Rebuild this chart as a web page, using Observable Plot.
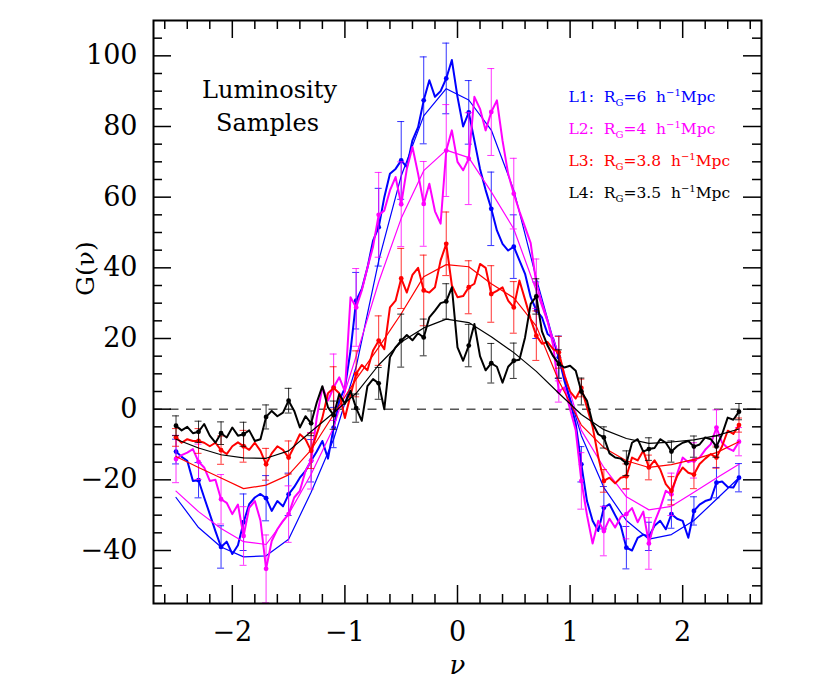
<!DOCTYPE html>
<html><head><meta charset="utf-8">
<script src="https://cdn.jsdelivr.net/npm/d3@7"></script>
<script src="https://cdn.jsdelivr.net/npm/@observablehq/plot@0.6"></script>
<style>body{margin:0;background:#fff}</style>
</head><body><div id="chart"></div>
<script>
// ---------- data ----------
const seriesNames = ["L1", "L2", "L3", "L4"];
const seriesColors = ["#0000ff", "#ff00ff", "#ff0000", "#000000"];
const legendRG = ["6", "4", "3.8", "3.5"];

// noisy measured curves on a grid nu = -2.50, -2.45, ... , 2.50
const noisyNu = d3.range(101).map(i => +(-2.5 + 0.05 * i).toFixed(2));
const L1_noisy = [-12.0,-13.5,-14.6,-20.3,-20.1,-25.0,-29.7,-34.5,-39.0,-37.5,-41.0,-38.5,-32.0,-26.9,-25.0,-24.0,-25.2,-28.8,-26.0,-27.5,-24.1,-22.0,-19.4,-17.5,-14.6,-12.0,-9.0,-14.0,-5.2,2.4,6.0,16.6,30.7,34.0,40.0,47.7,51.5,60.0,66.6,68.0,70.4,68.5,76.1,79.8,87.4,93.1,88.4,90.0,93.6,98.8,88.4,80.0,84.0,76.0,68.0,62.0,56.7,50.6,46.8,44.9,46.0,42.1,38.3,31.7,28.0,26.0,21.3,20.0,14.7,8.0,2.4,-4.2,-15.6,-26.0,-31.6,-34.5,-27.9,-26.9,-30.0,-33.0,-39.2,-40.0,-36.4,-35.5,-36.0,-33.0,-31.6,-34.0,-29.7,-31.0,-31.6,-36.4,-28.8,-27.0,-26.0,-25.5,-20.8,-20.5,-22.0,-22.2,-19.4];
const L2_noisy = [-14.1,-13.0,-12.3,-11.3,-14.9,-16.5,-20.3,-20.0,-25.5,-26.5,-29.7,-27.0,-35.9,-27.9,-26.0,-31.5,-45.2,-37.3,-34.0,-31.6,-29.7,-25.0,-23.1,-17.5,-14.6,-2.4,6.2,2.4,6.2,9.0,5.0,31.7,28.8,33.6,40.0,46.0,55.0,56.2,61.9,65.7,58.0,68.0,74.2,66.6,58.1,63.8,56.0,52.5,73.2,78.9,70.0,67.6,70.9,88.4,85.0,78.9,84.1,87.4,76.0,66.6,61.0,56.0,51.5,47.0,35.5,30.0,25.0,18.0,5.0,6.2,0.0,-6.0,-20.3,-30.0,-38.0,-31.6,-34.5,-31.0,-33.5,-30.5,-29.7,-28.0,-32.0,-29.0,-38.0,-32.0,-28.0,-23.1,-24.1,-18.4,-13.7,-15.0,-14.5,-13.7,-11.5,-9.9,-5.2,-9.5,-11.0,-11.8,-9.2];
const L3_noisy = [-8.0,-9.5,-8.5,-9.0,-9.0,-9.5,-10.5,-9.5,-11.6,-12.7,-10.5,-9.4,-10.5,-11.5,-9.5,-11.8,-15.6,-12.5,-10.5,-11.5,-13.7,-10.5,-7.1,-8.5,-11.8,-7.0,-2.4,4.5,6.0,4.5,-2.5,4.0,10.0,12.5,11.0,16.6,19.4,17.0,28.8,30.7,37.0,33.0,38.0,40.0,33.6,33.0,34.5,42.1,46.8,35.0,31.7,32.0,34.5,35.5,41.1,40.0,32.6,33.5,34.5,30.7,28.8,36.4,31.0,25.5,20.8,18.5,19.0,17.0,16.1,9.5,5.0,3.0,6.0,0.5,-5.0,-13.5,-20.3,-19.4,-21.0,-19.4,-19.0,-13.7,-14.5,-11.8,-16.5,-14.5,-17.0,-21.2,-23.1,-19.0,-16.5,-18.0,-18.5,-15.5,-14.0,-12.7,-13.7,-10.5,-6.1,-7.0,-4.5];
const L4_noisy = [-4.7,-6.0,-5.0,-6.8,-6.4,-4.2,-7.5,-9.5,-6.8,-8.0,-5.2,-7.5,-7.1,-6.0,-9.0,-8.5,-2.2,-0.5,-2.0,-1.0,2.4,-0.5,-5.2,-2.0,-4.0,1.9,6.5,0.5,-1.7,4.3,1.5,5.2,0.3,-3.3,6.5,8.5,7.3,0.0,14.7,17.5,19.4,21.0,19.5,21.5,20.3,26.0,27.9,30.0,30.5,34.5,17.5,13.7,18.0,24.1,15.0,11.0,13.0,12.0,7.5,12.0,13.7,14.0,20.3,29.8,31.9,22.0,18.0,15.0,12.8,11.8,12.3,10.9,5.0,2.4,-4.0,-7.1,-8.0,-12.5,-13.7,-14.0,-15.3,-9.5,-8.5,-12.0,-11.3,-11.0,-8.5,-9.5,-12.0,-10.5,-9.5,-9.0,-10.6,-10.0,-8.0,-8.5,-10.6,-7.1,-2.4,-3.0,-0.7];

// error-bar points
const errNu = [-2.5,-2.3,-2.1,-1.9,-1.7,-1.5,-1.3,-1.1,-0.9,-0.7,-0.5,-0.3,-0.1,0.1,0.3,0.5,0.7,0.9,1.1,1.3,1.5,1.7,1.9,2.1,2.3,2.5];
const L1_errG = [-12.0,-20.1,-39.0,-32.0,-25.2,-24.1,-14.6,-5.2,30.7,51.5,70.4,87.4,93.6,84.0,56.7,46.0,28.0,14.7,-15.6,-27.9,-39.2,-36.0,-29.7,-28.8,-20.8,-19.4];
const L1_errE = [3.5,5,6,8,6.4,6,6,5.7,8,11,11,12.3,10,9,10.4,9,8,6,5,6,6,4,4,4,4.3,4];
const L2_errG = [-14.1,-14.9,-25.5,-35.9,-45.2,-29.7,-14.6,6.2,28.8,55.0,58.0,58.1,73.2,70.9,84.1,61.0,35.5,5.0,-20.3,-34.5,-29.7,-38.0,-24.1,-14.5,-5.2,-9.2];
const L2_errE = [6.7,5,7,8.3,9.6,8,8,9.4,11,12,12,12,13,13,12.3,10,7,3,8,7,7,7.3,6,5,5,4];
const L3_errG = [-8.0,-9.0,-11.6,-10.5,-15.6,-13.7,-11.8,6.0,10.0,19.4,37.0,33.6,46.8,34.5,32.6,28.8,20.8,16.1,6.0,-20.3,-19.0,-16.5,-23.1,-18.5,-13.7,-4.5];
const L3_errE = [2.5,3.5,4,4.5,4.5,4.7,5,6,6.5,7,8.5,10,9,7.5,8,7.3,7,4.5,2.5,3.2,3.5,3.5,4,4,3,2];
const L4_errG = [-4.7,-6.4,-6.8,-7.1,-2.2,2.4,-4.0,-1.7,0.3,7.3,19.4,20.3,30.5,18.0,13.0,13.7,31.9,12.8,5.0,-8.0,-15.3,-11.3,-12.0,-10.6,-10.6,-0.7];
const L4_errE = [2.8,3,3.2,3.4,3.4,3.5,3.5,4,4,4.5,7.5,5.2,5,6,5.6,5,5,4,3.8,3,3.5,3.2,3,3,3,2.3];

// smooth model curves (same nu grid as error points)
const L1_smooth = [-25.0,-33.5,-39.0,-41.8,-41.5,-36.8,-23.5,-8.5,12.0,42.0,66.0,83.0,90.7,87.5,79.0,62.0,37.0,14.0,-7.5,-22.2,-31.5,-36.8,-35.5,-31.5,-25.5,-19.4];
const L2_smooth = [-23.2,-29.0,-33.8,-37.5,-38.3,-29.7,-18.4,-5.2,15.0,36.0,54.0,67.5,73.3,71.2,61.5,51.0,33.5,15.5,-6.0,-16.5,-24.8,-28.5,-27.5,-23.5,-19.5,-15.6];
const L3_smooth = [-13.4,-16.5,-19.5,-22.5,-21.5,-18.6,-11.5,-1.5,8.5,17.5,27.0,37.5,40.9,40.3,35.5,31.5,23.5,8.0,-4.5,-10.9,-14.6,-16.5,-15.7,-14.2,-12.3,-9.2];
const L4_smooth = [-8.5,-11.0,-12.9,-13.8,-13.9,-11.8,-6.3,-1.0,4.5,12.5,19.0,23.0,25.5,24.5,20.5,16.0,10.7,4.5,-1.5,-5.8,-8.3,-9.7,-9.3,-8.7,-7.5,-5.6];

// axes
const xLabelTicks = [-2, -1, 0, 1, 2];
const xMinorTicks = [-2.6,-2.4,-2.2,-1.8,-1.6,-1.4,-1.2,-0.8,-0.6,-0.4,-0.2,0.2,0.4,0.6,0.8,1.2,1.4,1.6,1.8,2.2,2.4,2.6];
const yLabelTicks = [-40, -20, 0, 20, 40, 60, 80, 100];
const yMinorTicks = [-50,-45,-35,-30,-25,-15,-10,-5,5,10,15,25,30,35,45,50,55,65,70,75,85,90,95,105];
const xDomain = [-2.7, 2.7];
const yDomain = [-55, 110];

// ---------- build tables ----------
const noisyAll = [L1_noisy, L2_noisy, L3_noisy, L4_noisy];
const errGAll = [L1_errG, L2_errG, L3_errG, L4_errG];
const errEAll = [L1_errE, L2_errE, L3_errE, L4_errE];
const smoothAll = [L1_smooth, L2_smooth, L3_smooth, L4_smooth];

const W = 830, H = 692, mL = 153, mR = 69, mT = 20, mB = 89;
const pxX = (W - mL - mR) / (xDomain[1] - xDomain[0]);
const pxY = (H - mT - mB) / (yDomain[1] - yDomain[0]);
const majY = 18 / pxY, minY = 9 / pxY, majX = 18 / pxX, minX = 9 / pxX;
const cap = 3.5 / pxX;
const fmt = d => (d < 0 ? "\u2212" + Math.abs(d) : String(d));

const marks = [];
marks.push(Plot.ruleY([0], {stroke: "#000", strokeWidth: 1, strokeDasharray: "9,7.5"}));

seriesNames.forEach((name, k) => {
  const color = seriesColors[k];
  const noisy = noisyNu.map((nu, i) => ({nu, g: noisyAll[k][i]}));
  const smooth = errNu.map((nu, i) => ({nu, g: smoothAll[k][i]}));
  const err = errNu.map((nu, i) => ({nu, g: errGAll[k][i], e: errEAll[k][i]}));
  marks.push(Plot.line(smooth, {x: "nu", y: "g", stroke: color, strokeWidth: 1.2}));
  marks.push(Plot.ruleX(err, {x: "nu", y1: d => d.g - d.e, y2: d => d.g + d.e, stroke: color, strokeWidth: 1, strokeOpacity: 0.8}));
  marks.push(Plot.ruleY(err, {y: d => d.g + d.e, x1: d => d.nu - cap, x2: d => d.nu + cap, stroke: color, strokeWidth: 1, strokeOpacity: 0.8}));
  marks.push(Plot.ruleY(err, {y: d => d.g - d.e, x1: d => d.nu - cap, x2: d => d.nu + cap, stroke: color, strokeWidth: 1, strokeOpacity: 0.8}));
  marks.push(Plot.line(noisy, {x: "nu", y: "g", stroke: color, strokeWidth: 2, strokeLinejoin: "round"}));
  marks.push(Plot.dot(err, {x: "nu", y: "g", r: 2.4, fill: color, stroke: "none"}));
});

// ticks on all four sides, pointing inward
const tk = {stroke: "#000", strokeWidth: 1.5};
marks.push(Plot.ruleX(xLabelTicks, {x: d => d, y1: yDomain[0], y2: yDomain[0] + majY, ...tk}));
marks.push(Plot.ruleX(xMinorTicks, {x: d => d, y1: yDomain[0], y2: yDomain[0] + minY, ...tk}));
marks.push(Plot.ruleX(xLabelTicks, {x: d => d, y1: yDomain[1], y2: yDomain[1] - majY, ...tk}));
marks.push(Plot.ruleX(xMinorTicks, {x: d => d, y1: yDomain[1], y2: yDomain[1] - minY, ...tk}));
marks.push(Plot.ruleY(yLabelTicks, {y: d => d, x1: xDomain[0], x2: xDomain[0] + majX, ...tk}));
marks.push(Plot.ruleY(yMinorTicks, {y: d => d, x1: xDomain[0], x2: xDomain[0] + minX, ...tk}));
marks.push(Plot.ruleY(yLabelTicks, {y: d => d, x1: xDomain[1], x2: xDomain[1] - majX, ...tk}));
marks.push(Plot.ruleY(yMinorTicks, {y: d => d, x1: xDomain[1], x2: xDomain[1] - minX, ...tk}));
marks.push(Plot.frame({stroke: "#000", strokeWidth: 2}));

marks.push(Plot.axisX({ticks: xLabelTicks, tickSize: 0, tickPadding: 18, fontSize: 27, label: null, tickFormat: fmt}));
marks.push(Plot.axisY({ticks: yLabelTicks, tickSize: 0, tickPadding: 16, fontSize: 27, label: null, tickFormat: fmt}));

// axis titles
marks.push(Plot.text(["G(ν)"], {frameAnchor: "left", dx: -68, dy: -16, rotate: -90, fontSize: 25, text: d => d}));
marks.push(Plot.text(["ν"], {frameAnchor: "bottom", dy: 70, fontSize: 26, fontStyle: "italic", text: d => d}));

// annotation
marks.push(Plot.text(["Luminosity"], {frameAnchor: "top-left", dx: 116, dy: 77, lineAnchor: "bottom", textAnchor: "middle", fontSize: 24, text: d => d}));
marks.push(Plot.text(["Samples"], {frameAnchor: "top-left", dx: 114, dy: 110, lineAnchor: "bottom", textAnchor: "middle", fontSize: 24, text: d => d}));

// legend
const legendBase = [81.5, 113.5, 145.5, 177];
seriesNames.forEach((name, k) => {
  marks.push(Plot.text([name], {
    frameAnchor: "top-left", dx: 415, dy: legendBase[k], lineAnchor: "bottom", textAnchor: "start",
    fontSize: 15.5, fill: seriesColors[k],
    text: d => `${d}:  R|G|=${legendRG[k]}  h|−1|Mpc`
  }));
});

const svg = Plot.plot({
  width: W, height: H,
  marginLeft: mL, marginRight: mR, marginTop: mT, marginBottom: mB,
  x: {domain: xDomain},
  y: {domain: yDomain},
  style: {fontFamily: "'DejaVu Serif', serif", background: "#fff", color: "#000"},
  marks
});

// sub/superscripts in legend
svg.querySelectorAll("text").forEach(t => {
  const s = t.textContent;
  if (!s.includes("|")) return;
  const p = s.split("|");
  t.textContent = "";
  t.setAttribute("xml:space", "preserve");
  t.style.whiteSpace = "pre";
  const add = (txt, dy, size) => {
    const ts = document.createElementNS("http://www.w3.org/2000/svg", "tspan");
    ts.textContent = txt;
    if (dy) ts.setAttribute("dy", dy);
    if (size) ts.setAttribute("font-size", size);
    t.appendChild(ts);
  };
  add(p[0]);
  add(p[1], 4, 10);
  add(p[2], -4);
  add(p[3], -6, 10);
  add(p[4], 6);
});

document.getElementById("chart").appendChild(svg);
</script>
</body></html>
